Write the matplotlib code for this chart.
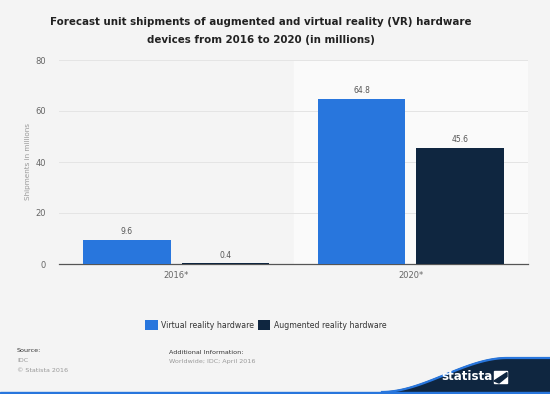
import matplotlib
matplotlib.use("Agg")
import matplotlib.pyplot as plt
import numpy as np
from matplotlib.patches import Polygon, Rectangle

categories = ["2016*", "2020*"]
vr_values = [9.6, 64.8]
ar_values = [0.4, 45.6]
series_names = ["Virtual reality hardware", "Augmented reality hardware"]
yticks = [0, 20, 40, 60, 80]

BG = "#f4f4f4"
VR = "#2876dd"
AR = "#0f2640"

fig = plt.figure(figsize=(5.5, 3.94), dpi=100, facecolor=BG)
ax = fig.add_axes([59/550, 1-264/394, 469/550, 204/394])
ax.set_facecolor(BG)

x = np.arange(len(categories))
w = 0.375
off = 0.21
ax.axvspan(0.5, 1.5, color="#fafafa", zorder=0)
b1 = ax.bar(x - off, vr_values, w, color=VR, zorder=3, label=series_names[0])
b2 = ax.bar(x + off, ar_values, w, color=AR, zorder=3, label=series_names[1])

for bars, vals in ((b1, vr_values), (b2, ar_values)):
    for r, v in zip(bars, vals):
        ax.text(r.get_x() + r.get_width()/2, v + 1.3, f"{v}", ha="center", va="bottom",
                fontsize=5.5, color="#555555", zorder=4)

ax.set_xlim(-0.5, 1.5)
ax.set_ylim(0, 80)
ax.set_yticks(yticks)
ax.set_xticks(x)
ax.set_xticklabels(categories)
ax.tick_params(axis="both", length=0, labelsize=6, colors="#666666")
ax.tick_params(axis="y", pad=9.5)
ax.tick_params(axis="x", pad=5)
for s in ["top", "right", "left"]:
    ax.spines[s].set_visible(False)
ax.spines["bottom"].set_color("#555555")
ax.spines["bottom"].set_linewidth(0.9)
ax.grid(axis="y", color="#e4e4e4", linewidth=0.7, zorder=1)
ax.set_axisbelow(True)
ax.set_ylabel("Shipments in millions", fontsize=5.2, color="#999999", labelpad=3)

fig.text(261/550, 1-22/394, "Forecast unit shipments of augmented and virtual reality (VR) hardware",
         ha="center", va="center", fontsize=7.4, fontweight="bold", color="#222222")
fig.text(261/550, 1-40/394, "devices from 2016 to 2020 (in millions)",
         ha="center", va="center", fontsize=7.4, fontweight="bold", color="#222222")

leg = fig.legend(handles=[b1, b2], loc="center", bbox_to_anchor=(266/550, 1-325/394), ncol=2,
                 frameon=False, fontsize=5.6, handlelength=1.55, handleheight=1.55,
                 columnspacing=0.55, handletextpad=0.45)
for t in leg.get_texts():
    t.set_color("#333333")

fig.text(17/550, 1-351/394, "Source:", fontsize=4.6, color="#333333", va="center")
fig.text(17/550, 1-361/394, "IDC", fontsize=4.6, color="#999999", va="center")
fig.text(17/550, 1-370/394, "© Statista 2016", fontsize=4.6, color="#999999", va="center")
fig.text(169/550, 1-352/394, "Additional Information:", fontsize=4.6, color="#333333", va="center")
fig.text(169/550, 1-362/394, "Worldwide; IDC; April 2016", fontsize=4.6, color="#999999", va="center")

# footer logo
fa = fig.add_axes([0, 0, 1, 1], zorder=-1)
fa.set_xlim(0, 550)
fa.set_ylim(394, 0)
fa.axis("off")
fa.patch.set_alpha(0)
t = np.linspace(0, 1, 60)
xs = 382 + 125 * t
ys = 392 - 34 * (3*t**2 - 2*t**3)
curve = list(zip(xs, ys)) + [(550, 358), (550, 394), (382, 394)]
fa.add_patch(Polygon(curve, closed=True, color="#0f2640", zorder=1))
fa.plot(list(xs) + [550], list(ys) + [358], color=VR, lw=1.6, zorder=2)
fa.add_patch(Rectangle((0, 391.5), 550, 2.5, color=VR, zorder=3))
fa.text(441, 377, "statista", color="white", fontsize=8.6, fontweight="bold", ha="left", va="center")
fa.add_patch(Polygon([(494, 371), (507, 371), (507, 383), (494, 383)], closed=True, color="white", zorder=4))
fa.add_patch(Polygon([(494, 381), (507, 372.5), (507, 376.5), (499, 383)], closed=True, color="#0f2640", zorder=5))

fig.savefig("out.png", dpi=100, facecolor=BG)
